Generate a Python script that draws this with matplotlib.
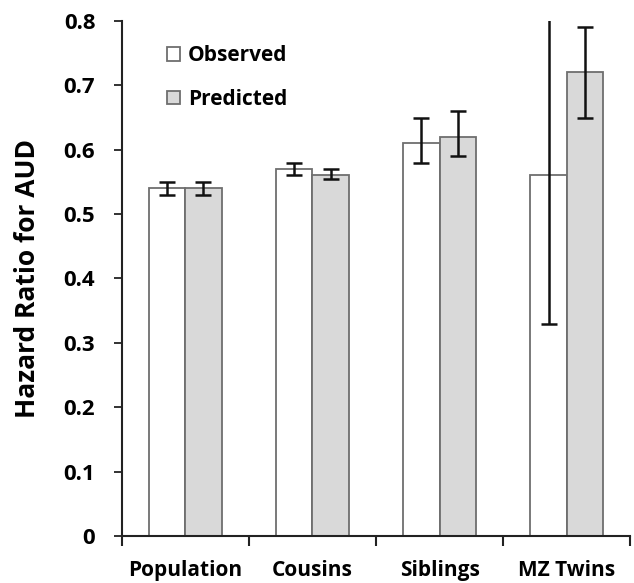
import numpy as np
import matplotlib
matplotlib.use("Agg")
import matplotlib.pyplot as plt

categories = ["Population", "Cousins", "Siblings", "MZ Twins"]
observed = [0.54, 0.57, 0.61, 0.56]
observed_lo = [0.53, 0.56, 0.58, 0.33]
observed_hi = [0.55, 0.58, 0.65, 0.86]
predicted = [0.54, 0.56, 0.62, 0.72]
predicted_lo = [0.53, 0.555, 0.59, 0.65]
predicted_hi = [0.55, 0.57, 0.66, 0.79]
y_ticks = [0, 0.1, 0.2, 0.3, 0.4, 0.5, 0.6, 0.7, 0.8]
y_tick_labels = ["0", "0.1", "0.2", "0.3", "0.4", "0.5", "0.6", "0.7", "0.8"]

plt.rcParams["font.family"] = ["Open Sans", "DejaVu Sans"]
plt.rcParams["font.weight"] = "bold"

fig = plt.figure(figsize=(6.34, 5.83), dpi=100)
ax = fig.add_axes([0.192, 0.0806, 0.802, 0.8834])

x = np.arange(len(categories))
w = 0.285
obs = np.array(observed)
pred = np.array(predicted)
obs_err = [obs - np.array(observed_lo), np.array(observed_hi) - obs]
pred_err = [pred - np.array(predicted_lo), np.array(predicted_hi) - pred]

ax.bar(x - w / 2, obs, w, color="white", edgecolor="#6e6e6e", linewidth=1.3, label="Observed", zorder=2)
ax.bar(x + w / 2, pred, w, color="#d9d9d9", edgecolor="#6e6e6e", linewidth=1.3, label="Predicted", zorder=2)
ax.errorbar(x - w / 2, obs, yerr=obs_err, fmt="none", ecolor="#111111", elinewidth=1.8, capsize=6, capthick=1.8, zorder=3)
ax.errorbar(x + w / 2, pred, yerr=pred_err, fmt="none", ecolor="#111111", elinewidth=1.8, capsize=6, capthick=1.8, zorder=3)

ax.set_xlim(-0.5, len(categories) - 0.5)
ax.set_ylim(0, 0.8)
ax.set_yticks(y_ticks)
ax.set_yticklabels(y_tick_labels)
ax.set_xticks(np.arange(len(categories) + 1) - 0.5)
ax.set_xticklabels([])
ax.set_xticks(x, minor=True)
ax.set_xticklabels(categories, minor=True)
ax.tick_params(axis="x", which="major", direction="out", length=7, width=1.5, color="#222222")
ax.tick_params(axis="x", which="minor", length=0, pad=17, labelsize=15)
ax.tick_params(axis="y", direction="out", length=6, width=1.3, color="#222222", labelsize=16, pad=13)

for s in ["top", "right"]:
    ax.spines[s].set_visible(False)
for s in ["left", "bottom"]:
    ax.spines[s].set_linewidth(1.5)
    ax.spines[s].set_color("#222222")

ax.set_ylabel("Hazard Ratio for AUD", fontsize=19, fontweight="bold", labelpad=16)

ax.legend(loc="upper left", bbox_to_anchor=(0.052, 0.99), frameon=False, fontsize=15,
          handlelength=0.65, handleheight=0.65, handletextpad=0.35, labelspacing=1.1)

fig.savefig("out.png", dpi=100)
